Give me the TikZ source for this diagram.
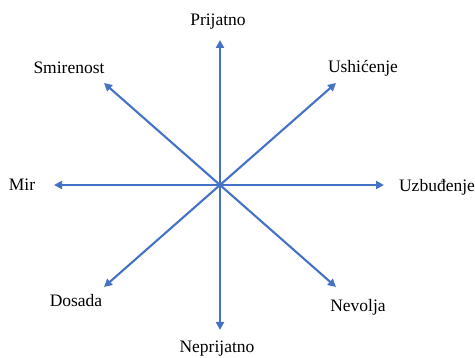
\documentclass[tikz,border=0pt]{standalone}
\usepackage{fontspec}
\setmainfont{Liberation Serif}
\newfontfamily\lblfont{Liberation Serif}
\usetikzlibrary{arrows.meta}
\definecolor{axisblue}{RGB}{68,114,196}
\begin{document}
\begin{tikzpicture}[x=1pt,y=-1pt,
  axis/.style={draw=axisblue,line width=2.1pt,-{Triangle[length=8pt,width=8pt]}},
  lbl/.style={font=\lblfont\fontsize{17.5}{20}\selectfont,inner sep=0pt,anchor=center}]
\useasboundingbox (0,0) rectangle (475,358);
\coordinate (c) at (220,185);
\coordinate (tn) at (220,40);
\coordinate (ts) at (220,330);
\coordinate (tw) at (54,185);
\coordinate (te) at (384,185);
\coordinate (tnw) at (104,83);
\coordinate (tne) at (336,83);
\coordinate (tsw) at (104,287);
\coordinate (tse) at (336,287);
\foreach \t in {tn,ts,tw,te,tnw,tne,tsw,tse} \draw[axis] (c) -- (\t);
\node[lbl] (prijatno) at (218,22) {Prijatno};
\node[lbl] (smirenost) at (69,68) {Smirenost};
\node[lbl] (ushicenje) at (363,68) {Ushićenje};
\node[lbl] (mir) at (22,185) {Mir};
\node[lbl] (uzbudjenje) at (437,187) {Uzbuđenje};
\node[lbl] (dosada) at (76,301) {Dosada};
\node[lbl] (nevolja) at (358,307) {Nevolja};
\node[lbl] (neprijatno) at (217,349) {Neprijatno};
\end{tikzpicture}
\end{document}
